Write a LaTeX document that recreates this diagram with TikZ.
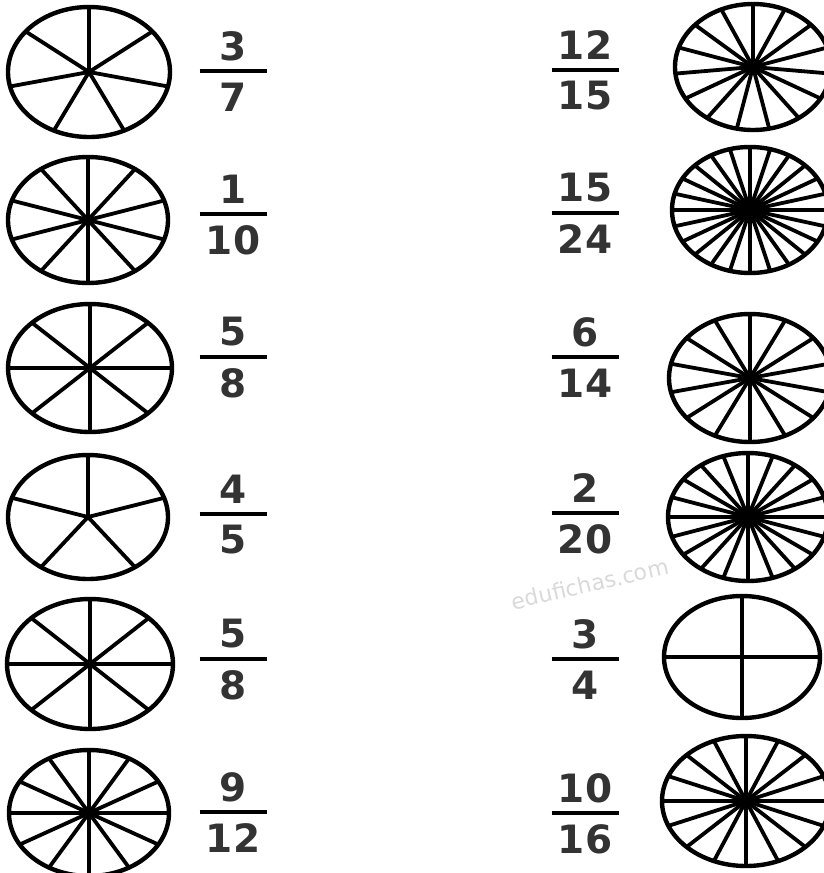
\documentclass[tikz,border=0pt]{standalone}
\usepackage{fontspec}
\setmainfont{DejaVu Sans}
\newfontfamily\markfont{DejaVu Sans}
\usepackage{xcolor}
\definecolor{digitgray}{HTML}{333333}
\definecolor{markgray}{HTML}{D9D9D9}

\begin{document}
\begin{tikzpicture}[x=1pt, y=-1pt, line join=round,
  rim/.style={line width=4.4pt},
  spoke/.style={line width=3.8pt, line cap=butt},
  digit/.style={inner sep=0pt, text=digitgray, font=\fontsize{39}{42}\selectfont\bfseries},
  fracbar/.style={line width=4.2pt, line cap=butt}]

\useasboundingbox (0,0) rectangle (824,873);
\clip (0,0) rectangle (824,873);

% --- faint watermark behind everything ---
\node[rotate=13, text=markgray, font=\markfont\fontsize{22}{25}\selectfont] (mark) at (590,584) {edufichas.com};

% --- each row: centre, radii, parts, fraction, fraction position ---
\foreach \cx/\cy/\rx/\ry/\n/\num/\den/\fx/\fy [count=\i] in {
    89/72/81/65/7/3/7/233/71,
    88/220/80/63/10/1/10/233/214,
    90/368/82/64/8/5/8/233/357,
    88/517/80/62/5/4/5/233/514,
    90/664/83/65/8/5/8/233/659,
    89/813/80/63/12/9/12/233/812,
    753/67/78/63/15/12/15/585/70,
    750/210/78/63/24/15/24/585/213,
    750/378/81/64/14/6/14/585/357,
    748/517/80/64/20/2/20/585/513,
    742/657/78/61/4/3/4/585/659,
    746/801/84/65/16/10/16/585/813} {

  % pie centre
  \coordinate (c\i) at (\cx,\cy);

  % spokes, starting straight up
  \foreach \k in {1,...,\n}
    \draw[spoke] (c\i) -- ++({\rx*cos(90+360*\k/\n)}, {-\ry*sin(90+360*\k/\n)});

  % outline
  \draw[rim] (c\i) ellipse [x radius=\rx pt, y radius=\ry pt];

  % --- the fraction ---
  \coordinate (barL\i) at (\fx-33.5,\fy);
  \coordinate (barR\i) at (\fx+33.5,\fy);
  \draw[fracbar] (barL\i) -- (barR\i);
  \node[digit] (num\i) at (\fx,\fy-25) {\num};
  \node[digit] (den\i) at (\fx,\fy+26) {\den};
}

\end{tikzpicture}
\end{document}
